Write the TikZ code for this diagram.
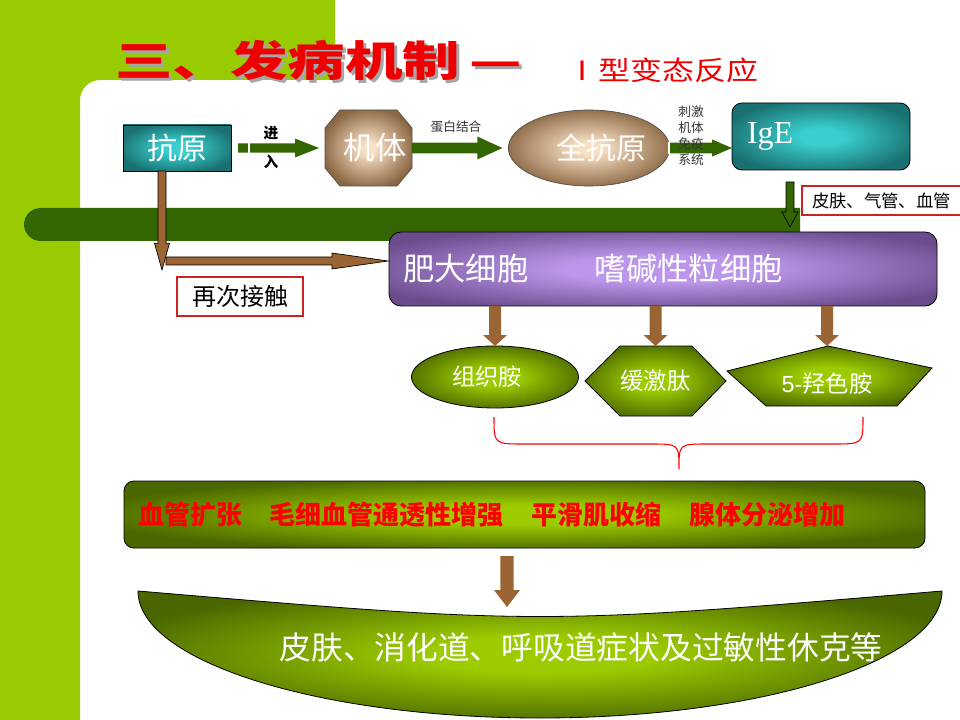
\documentclass[tikz,border=0pt]{standalone}
\usepackage{fontspec}
\usepackage{graphicx}
\setmainfont{Liberation Serif}
\newfontfamily\cjk{Noto Sans CJK SC}
\newfontfamily\arialf{Liberation Sans}
\usetikzlibrary{shapes.misc,shapes.geometric,calc}
\definecolor{lime}{HTML}{99CC00}
\definecolor{dkgreen}{HTML}{336600}
\definecolor{tealin}{HTML}{3ACFCF}
\definecolor{tealout}{HTML}{1A7070}
\definecolor{brin}{HTML}{F8E0C4}
\definecolor{brout}{HTML}{8A6642}
\definecolor{purin}{HTML}{BC96EA}
\definecolor{purout}{HTML}{6A4C8C}
\definecolor{grin}{HTML}{9CCC00}
\definecolor{grout}{HTML}{4A6600}
\definecolor{brarrow}{HTML}{9A6434}
\definecolor{boxred}{HTML}{CC2222}
\definecolor{titlered}{HTML}{EE0000}
\pgfdeclareradialshading{tealrad}{\pgfpoint{0bp}{0bp}}{color(0bp)=(tealin); color(6bp)=(tealin); color(28bp)=(tealout); color(50bp)=(tealout)}
\pgfdeclareradialshading{brownrad}{\pgfpoint{0bp}{0bp}}{color(0bp)=(brin); color(4bp)=(brin); color(27bp)=(brout); color(50bp)=(brout)}
\pgfdeclareradialshading{purrad}{\pgfpoint{0bp}{0bp}}{color(0bp)=(purin); color(9bp)=(purin); color(30bp)=(purout); color(50bp)=(purout)}
\pgfdeclareradialshading{greenrad}{\pgfpoint{0bp}{0bp}}{color(0bp)=(grin); color(7bp)=(grin); color(28bp)=(grout); color(50bp)=(grout)}
% right-pointing block arrow: style, start, end, half shaft, half head, head length
\newcommand\blockR[6]{\path[#1] let \p1=#2, \p2=#3 in
  (\x1,{\y1+#4}) -- ({\x2-#6},{\y1+#4}) -- ({\x2-#6},{\y1+#5}) -- (\x2,\y1)
  -- ({\x2-#6},{\y1-#5}) -- ({\x2-#6},{\y1-#4}) -- (\x1,{\y1-#4}) -- cycle;}
% down-pointing block arrow
\newcommand\blockD[6]{\path[#1] let \p1=#2, \p2=#3 in
  ({\x1-#4},\y1) -- ({\x1-#4},{\y2+#6}) -- ({\x1-#5},{\y2+#6}) -- (\x1,\y2)
  -- ({\x1+#5},{\y2+#6}) -- ({\x1+#4},{\y2+#6}) -- ({\x1+#4},\y1) -- cycle;}
\begin{document}
\begin{tikzpicture}[x=0.75pt,y=-0.75pt,
  every node/.style={inner sep=0pt, outer sep=0pt},
  tealbox/.style={draw=black, line width=0.6pt, shade, shading=tealrad},
  brownshape/.style={draw=black!70, line width=0.5pt, shade, shading=brownrad},
  greenshape/.style={draw=black, line width=0.6pt, shade, shading=greenrad},
  purshape/.style={draw=black, line width=0.6pt, shade, shading=purrad},
  redframe/.style={draw=boxred, line width=0.8pt, fill=white},
  garrow/.style={fill=dkgreen},
  garrowline/.style={fill=dkgreen, draw=black, line width=0.5pt},
  barrowline/.style={fill=brarrow, draw=black, line width=0.5pt},
  barrow/.style={fill=brarrow},
  smalltxt/.style={font=\cjk\fontsize{9.5}{12}\selectfont, text=black!80},
  shapetxt/.style={text=white, font=\cjk\fontsize{17.5}{21}\selectfont}
]
\useasboundingbox (0,0) rectangle (960,720);
\fill[white] (0,0) rectangle (960,720);
% green background
\fill[lime] (0,0) -- (335,0) -- (335,80) -- (100,80) .. controls (89,80) and (80,89) .. (80,100) -- (80,720) -- (0,720) -- cycle;

% title (with drop shadow)
\node[anchor=west, font=\cjk\bfseries\fontsize{31.5}{36}\selectfont, text=black!35] (titleshadow) at (118,63) {\scalebox{1.37}[1]{三、发病机制\hspace{5pt}—}};
\node[anchor=west, font=\cjk\bfseries\fontsize{31.5}{36}\selectfont, text=titlered] (title) at (115,60) {\scalebox{1.37}[1]{三、发病机制\hspace{5pt}—}};
\node[anchor=west, font=\cjk\fontsize{20}{24}\selectfont, text=titlered] (subtitle) at (566,70) {\scalebox{1.2}[1]{Ⅰ型变态反应}};

% dark green bar
\node[rounded rectangle, rounded rectangle right arc=none, fill=dkgreen, minimum width=582pt, minimum height=24.75pt] (greenbar) at (412,224.5) {};

% top row nodes
\node[tealbox, minimum width=81pt, minimum height=34.5pt, text=white, font=\cjk\fontsize{22.5}{27}\selectfont] (kangyuan) at (177,148) {抗原};

\shade[brownshape] (325,128) -- (340,110) -- (397,110) -- (412,128) -- (412,168) -- (397,186) -- (340,186) -- (325,168) -- cycle;
\node[minimum width=65.25pt, minimum height=57pt, text=white, font=\cjk\fontsize{23.5}{28}\selectfont] (jiti) at (368.5,148) {\hspace*{10pt}机体};

\node[ellipse, brownshape, minimum width=109.5pt, minimum height=57pt, text=white, font=\cjk\fontsize{22.5}{27}\selectfont] (quan) at (589,148) {\hspace*{18pt}全抗原};

\node[rounded corners=7.5pt, tealbox, minimum width=133.5pt, minimum height=50.25pt, text width=111pt, align=left, inner xsep=11.25pt, text=white, font=\fontsize{24}{28}\selectfont] (ige) at (821,136.5) {IgE};

% arrows top row
\blockR{garrow}{($(kangyuan.east)+(7,0)$)}{($(jiti.west)+(-6,0)$)}{3.4pt}{7.1pt}{18pt}
\fill[white] (248,142) rectangle (250,154);
\node[font=\cjk\bfseries\fontsize{11}{13}\selectfont] (jin) at (271,133) {进};
\node[font=\cjk\bfseries\fontsize{11}{13}\selectfont] (ru) at (271,162) {入};

\blockR{garrow}{(jiti.east)}{($(quan.west)+(-6,0)$)}{4.1pt}{8.6pt}{18.75pt}
\node[smalltxt] (danbai) at (456,127) {蛋白结合};

\blockR{garrow}{(quan.east)}{(ige.west)}{4.1pt}{6.4pt}{15pt}
\fill[white] (668,142) rectangle (670,154);
\node[smalltxt, align=center] (ciji) at (691,136) {刺激\\机体\\免疫\\系统};

% IgE down arrow and label
\coordinate (igeout) at (790,182);
\blockD{garrowline}{(igeout)}{($(igeout |- greenbar.north)+(0,19)$)}{3pt}{6pt}{11.25pt}
\node[redframe, minimum width=129.75pt, minimum height=21.75pt, text width=114.75pt, align=left, inner xsep=7.5pt, font=\cjk\fontsize{13}{15}\selectfont] (skin) at (888.5,200.5) {皮肤、气管、血管};

% purple cell box
\node[rounded corners=9pt, purshape, minimum width=411pt, minimum height=55.5pt, text width=390pt, inner xsep=10.5pt, align=left, text=white, font=\cjk\fontsize{23.5}{28}\selectfont] (purple) at (663,269) {肥大细胞\hspace{50pt}嗜碱性粒细胞};

% second contact arrows
\coordinate (turn) at (162,261);
\blockR{barrowline}{($(turn)+(4,0)$)}{($(turn -| purple.west)+(-1,0)$)}{3pt}{6pt}{42pt}
\blockD{barrowline}{(turn |- kangyuan.south)}{($(turn)+(0,9)$)}{3pt}{5.6pt}{20pt}
\node[redframe, minimum width=94.5pt, minimum height=29.25pt, font=\cjk\fontsize{18}{21}\selectfont] (zaici) at (240,296.5) {再次接触};

% mediators
\node[ellipse, greenshape, minimum width=125.25pt, minimum height=46.5pt, shapetxt] (zuzhi) at (495,377) {组织胺\hspace*{12pt}};
\shade[greenshape] (585,381) -- (620,346) -- (692,346) -- (726,381) -- (692,416) -- (620,416) -- cycle;
\node[minimum width=105pt, minimum height=52.5pt, shapetxt] (huanji) at (655.5,381) {缓激肽};
\shade[greenshape] (727,371) -- (828,346) -- (932,368) -- (897,406) -- (766,406) -- cycle;
\node[minimum width=153.75pt, minimum height=57pt, shapetxt] (qiangse) at (827,384) {{\arialf 5-}羟色胺};

\blockD{barrow}{(zuzhi.north |- purple.south)}{(zuzhi.north)}{4.5pt}{9pt}{8.25pt}
\blockD{barrow}{(huanji.north |- purple.south)}{(huanji.north)}{4.5pt}{9pt}{8.25pt}
\blockD{barrow}{(qiangse.north |- purple.south)}{(qiangse.north)}{4.5pt}{9pt}{8.25pt}

% brace
\draw[red, line width=0.8pt] (494,417) .. controls (494,444) and (494,444) .. (524,444) -- (650,444)
  .. controls (679,444) and (679,444) .. (679,469) .. controls (679,444) and (679,444) .. (708,444)
  -- (833,444) .. controls (863,444) and (863,444) .. (863,417);

% effects bar
\node[rounded corners=7.5pt, greenshape, minimum width=600.75pt, minimum height=50.25pt, text width=579.75pt, inner xsep=10.5pt, align=left, text=red, font=\cjk\bfseries\fontsize{19.5}{23}\selectfont] (effect) at (524.5,514.5) {血管扩张\hspace{21pt}毛细血管通透性增强\hspace{21pt}平滑肌收缩\hspace{21pt}腺体分泌增加};

% bowl
\shade[greenshape] (138,591) .. controls (540,625) .. (942,591) .. controls (942,661) and (762,718) .. (540,718) .. controls (318,718) and (138,661) .. (138,591) -- cycle;
\coordinate (bowltop) at (507,607);
\blockD{barrow}{($(bowltop |- effect.south)+(0,8)$)}{(bowltop)}{4.9pt}{9.75pt}{12.75pt}
\node[text=white, font=\cjk\fontsize{23.8}{28}\selectfont] (bowltext) at (581,647) {皮肤、消化道、呼吸道症状及过敏性休克等};
\end{tikzpicture}
\end{document}
